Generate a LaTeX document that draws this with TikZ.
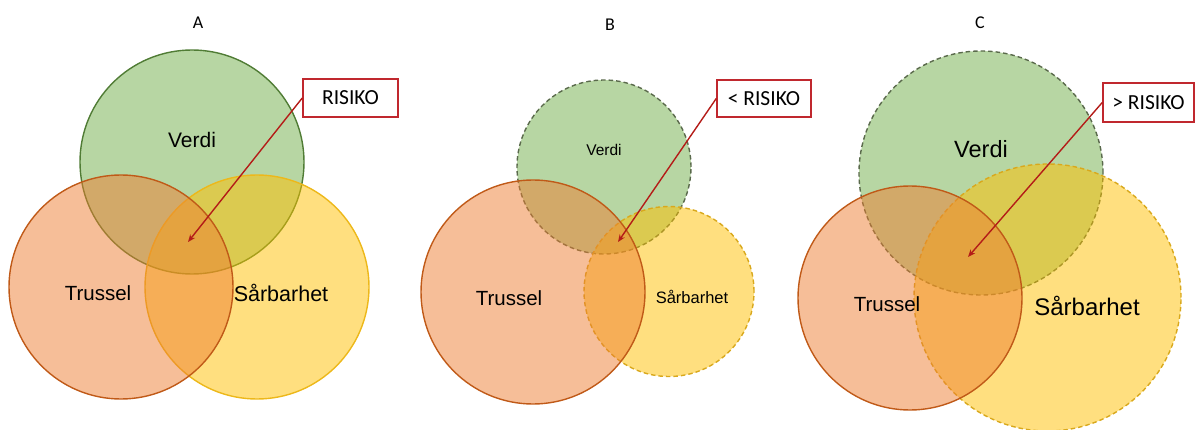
\documentclass[tikz,border=0pt]{standalone}
\usepackage{fontspec}
\setmainfont{Liberation Sans}
\newfontfamily\boxfont{Carlito}
\usetikzlibrary{arrows.meta}

\definecolor{vgreen}{HTML}{70AD47}
\definecolor{vgreenline}{HTML}{507C35}
\definecolor{vgreendash}{HTML}{5A6A4C}
\definecolor{torange}{HTML}{ED7D31}
\definecolor{torangeline}{HTML}{C05A18}
\definecolor{syellow}{HTML}{FFC000}
\definecolor{syellowline}{HTML}{EDB81A}
\definecolor{syellowdash}{HTML}{D9A81C}
\definecolor{riskred}{HTML}{C0282E}
\definecolor{arrowred}{HTML}{B41C18}

\tikzset{
  venn/.style={circle, inner sep=0pt, fill opacity=0.5, line width=1.4pt},
  dashedrim/.style={dash pattern=on 4.5pt off 3pt},
  verdi/.style={venn, fill=vgreen, draw=vgreenline},
  verdidash/.style={venn, fill=vgreen, draw=vgreendash, dashedrim},
  trussel/.style={venn, fill=torange, draw=torangeline},
  sarbar/.style={venn, fill=syellow, draw=syellowline},
  sarbardash/.style={venn, fill=syellow, draw=syellowdash, dashedrim},
  risk/.style={draw=riskred, fill=white, line width=1.5pt, inner sep=0pt,
    font=\boxfont\fontsize{21.5}{24}\selectfont},
  pointer/.style={draw=arrowred, line width=1.4pt,
    -{Stealth[length=7.5pt,width=6pt]}},
  paneltitle/.style={font=\boxfont\fontsize{18}{20}\selectfont},
  lbl/.style={inner sep=0pt}
}

\begin{document}
\begin{tikzpicture}[x=1pt,y=-1pt]
\useasboundingbox (0,0) rectangle (1196,430);

% ---------- A ----------
\node[paneltitle] (tA) at (198,23) {A};
\node[verdi, minimum size=224pt] (vA) at (192,162) {};
\node[sarbar, minimum size=224pt] (sA) at (257,287) {};
\node[trussel, minimum size=224pt] (trA) at (121,287) {};
\node[lbl, font=\fontsize{21}{23}\selectfont] (lvA) at (192,140) {Verdi};
\node[lbl, font=\fontsize{20.5}{23}\selectfont] (ltA) at (98,293) {Trussel};
\node[lbl, font=\fontsize{21.5}{23}\selectfont] (lsA) at (281,293) {Sårbarhet};
\node[risk, minimum width=95pt, minimum height=38pt] (rA) at (350.5,98) {RISIKO};
\coordinate (pA) at (188,242);
\draw[pointer] (rA.west) -- (pA);

% ---------- B ----------
\node[paneltitle] (tB) at (610,25) {B};
\node[verdidash, minimum size=174pt] (vB) at (604,167) {};
\node[sarbardash, minimum size=170pt] (sB) at (669,291.5) {};
\node[trussel, minimum size=224pt] (trB) at (533,292) {};
\node[lbl, font=\fontsize{15.5}{18}\selectfont] (lvB) at (604,150) {Verdi};
\node[lbl, font=\fontsize{20.5}{23}\selectfont] (ltB) at (509,298) {Trussel};
\node[lbl, font=\fontsize{16.5}{19}\selectfont] (lsB) at (692,297) {Sårbarhet};
\node[risk, minimum width=94pt, minimum height=37pt] (rB) at (764,98.5) {< RISIKO};
\coordinate (pB) at (618,242);
\draw[pointer] (rB.west) -- (pB);

% ---------- C ----------
\node[paneltitle] (tC) at (980,23) {C};
\node[verdidash, minimum size=244pt] (vC) at (981,173) {};
\node[sarbardash, minimum size=267pt] (sC) at (1047.5,297.5) {};
\node[trussel, minimum size=224pt] (trC) at (910,298) {};
\node[lbl, font=\fontsize{23.5}{26}\selectfont] (lvC) at (981,149) {Verdi};
\node[lbl, font=\fontsize{20.5}{23}\selectfont] (ltC) at (887,304) {Trussel};
\node[lbl, font=\fontsize{24}{27}\selectfont] (lsC) at (1087,306) {Sårbarhet};
\node[risk, minimum width=91pt, minimum height=39pt] (rC) at (1148.5,102.5) {> RISIKO};
\coordinate (pC) at (968,257);
\draw[pointer] (rC.west) -- (pC);
\end{tikzpicture}
\end{document}
